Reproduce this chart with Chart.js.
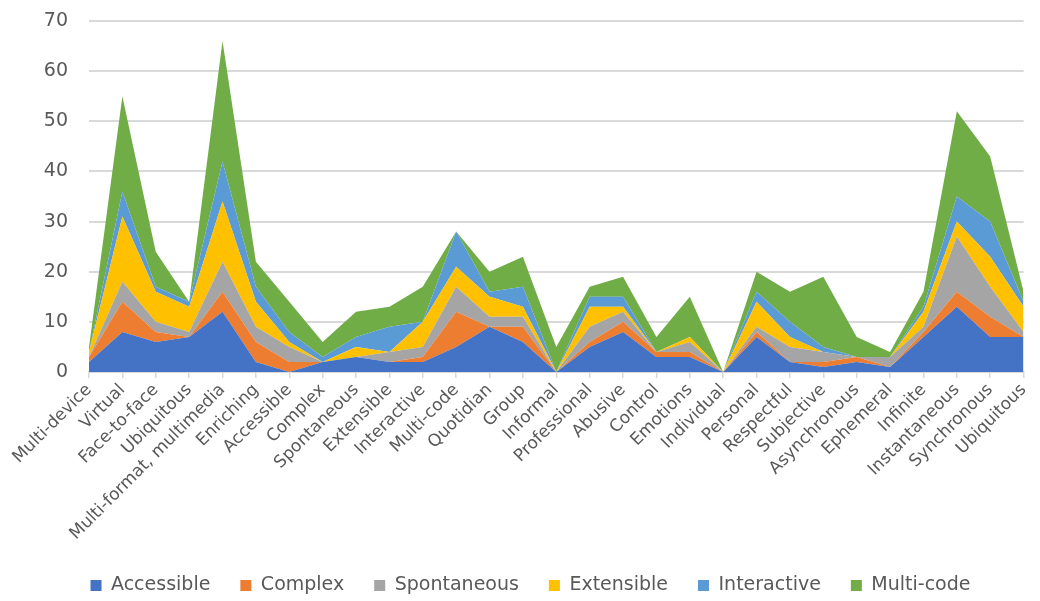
<!DOCTYPE html>
<html>
<head>
<meta charset="utf-8">
<script src="https://cdn.jsdelivr.net/npm/chart.js@4/dist/chart.umd.min.js"></script>
<style>
  html, body { margin: 0; padding: 0; background: #fff; }
  #wrap { width: 1040px; height: 601px; }
</style>
</head>
<body>
<div id="wrap"><canvas id="area-chart"></canvas></div>
<script>
// Categories along the x axis
const categories = [
  "Multi-device", "Virtual", "Face-to-face", "Ubiquitous", "Multi-format, multimedia",
  "Enriching", "Accessible", "Complex", "Spontaneous", "Extensible", "Interactive",
  "Multi-code", "Quotidian", "Group", "Informal", "Professional", "Abusive", "Control",
  "Emotions", "Individual", "Personal", "Respectful", "Subjective", "Asynchronous",
  "Ephemeral", "Infinite", "Instantaneous", "Synchronous", "Ubiquitous"
];

// Series values (stacked)
const accessible  = [2, 8, 6, 7, 12, 2, 0, 2, 3, 2, 2, 5, 9, 6, 0, 5, 8, 3, 3, 0, 7, 2, 1, 2, 1, 7, 13, 7, 7];
const complex     = [1, 6, 2, 0, 4, 4, 2, 0, 0, 0, 1, 7, 0, 3, 0, 1, 2, 1, 1, 0, 1, 0, 1, 1, 0, 1, 3, 4, 0];
const spontaneous = [0, 4, 2, 1, 6, 3, 3, 0, 0, 2, 2, 5, 2, 2, 0, 3, 2, 0, 2, 0, 1, 3, 2, 0, 2, 1, 11, 6, 1];
const extensible  = [1, 13, 6, 5, 12, 5, 1, 0, 2, 0, 5, 4, 4, 2, 0, 4, 1, 0, 1, 0, 5, 2, 0, 0, 0, 3, 3, 6, 5];
const interactive = [0, 5, 1, 1, 8, 3, 2, 1, 2, 5, 0, 7, 1, 4, 0, 2, 2, 0, 0, 0, 2, 3, 1, 0, 0, 1, 5, 7, 1];
const multiCode   = [1, 19, 7, 0, 24, 5, 6, 3, 5, 4, 7, 0, 4, 6, 5, 2, 4, 3, 8, 0, 4, 6, 14, 4, 1, 3, 17, 13, 2];

const seriesNames = ["Accessible", "Complex", "Spontaneous", "Extensible", "Interactive", "Multi-code"];
const seriesData = [accessible, complex, spontaneous, extensible, interactive, multiCode];
const seriesColors = ["#4472C4", "#ED7D31", "#A5A5A5", "#FFC000", "#5B9BD5", "#70AD47"];

const textColor = "#595959";
const gridColor = "#d9d9d9";
const fontFamily = "'DejaVu Sans', sans-serif";

// Legend sits lower with wide item spacing: fix its box height
const legendHeight = {
  id: "legendHeight",
  beforeInit(chart) {
    const origFit = chart.legend.fit;
    chart.legend.fit = function () {
      origFit.bind(chart.legend)();
      this.height = 55;
    };
  },
};

new Chart("area-chart", {
  type: "line",
  data: {
    labels: categories,
    datasets: seriesData.map((vals, i) => ({
      label: seriesNames[i],
      data: vals,
      backgroundColor: seriesColors[i],
      borderColor: seriesColors[i],
      borderWidth: 0,
      pointRadius: 0,
      pointHoverRadius: 0,
      tension: 0,
      fill: i === 0 ? "origin" : "-1",
    })),
  },
  options: {
    responsive: true,
    maintainAspectRatio: false,
    animation: false,
    layout: { padding: { top: 0, right: 13, bottom: 0, left: 34 } },
    plugins: {
      tooltip: { enabled: false },
      legend: {
        position: "bottom",
        labels: {
          color: textColor,
          font: { family: fontFamily, size: 19 },
          boxWidth: 11,
          boxHeight: 11,
          padding: 30,
        },
      },
    },
    scales: {
      x: {
        offset: false,
        grid: {
          display: true,
          drawOnChartArea: false,
          drawTicks: true,
          tickLength: 6,
          color: gridColor,
          lineWidth: 1.5,
        },
        border: { display: true, color: gridColor, width: 1.5 },
        ticks: {
          color: textColor,
          font: { family: fontFamily, size: 17 },
          minRotation: 45,
          maxRotation: 45,
          autoSkip: false,
          padding: 2,
        },
        afterFit(scale) { scale.height = 174; },
      },
      y: {
        stacked: true,
        min: 0,
        max: 70,
        grid: { color: gridColor, lineWidth: 2, drawTicks: false },
        border: { display: false },
        ticks: {
          stepSize: 10,
          color: textColor,
          font: { family: fontFamily, size: 19 },
          padding: 21,
        },
        afterFit(scale) {
          scale.width = 55;
          scale.paddingTop = 21;
          scale.paddingBottom = 0;
        },
      },
    },
  },
  plugins: [legendHeight],
});
</script>
</body>
</html>
